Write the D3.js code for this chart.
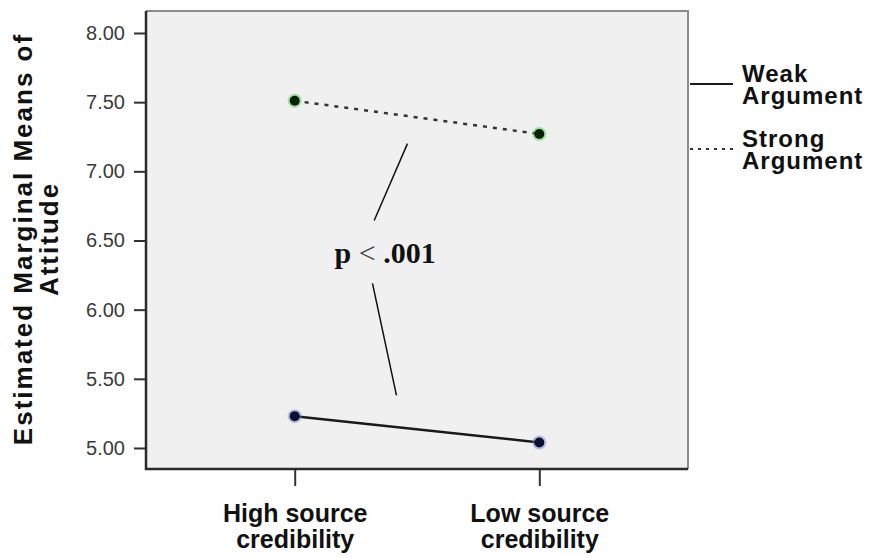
<!DOCTYPE html>
<html>
<head>
<meta charset="utf-8">
<script src="https://cdn.jsdelivr.net/npm/d3@7"></script>
<style>
  body { margin: 0; background: #fff; }
  svg { display: block; }
</style>
</head>
<body>
<div id="chart"></div>
<script>
// Data
const categories = ["High source credibility", "Low source credibility"];
const categoryLines = [["High source", "credibility"], ["Low source", "credibility"]];
const weakValues = [5.23, 5.04];
const strongValues = [7.51, 7.27];
const yTicks = [5.0, 5.5, 6.0, 6.5, 7.0, 7.5, 8.0];
const seriesNames = ["Weak Argument", "Strong Argument"];

// Annotation: x is a fraction between the two categories, y in attitude units
const annoUpper = [[0.461, 7.20], [0.325, 6.645]];
const annoLower = [[0.318, 6.19], [0.416, 5.38]];
const annoText = { x: 0.163, y: 6.34 };

const W = 871, H = 558;
const plot = { left: 146, right: 688, top: 11, bottom: 469 };

const svg = d3.select("#chart").append("svg")
    .attr("width", W)
    .attr("height", H);

const x = d3.scalePoint()
    .domain(categories)
    .range([plot.left, plot.right])
    .padding(0.608);

const y = d3.scaleLinear()
    .domain([4.848, 8.159])
    .range([plot.bottom, plot.top]);

// fractional position between the two categories
const xf = t => x(categories[0]) + t * (x(categories[1]) - x(categories[0]));

// plot background
svg.append("rect")
    .attr("x", plot.left)
    .attr("y", plot.top)
    .attr("width", plot.right - plot.left)
    .attr("height", plot.bottom - plot.top)
    .attr("fill", "#f0f0f0");

// top / right frame lines (lighter)
svg.append("path")
    .attr("d", `M${plot.left},${plot.top}H${plot.right}V${plot.bottom}`)
    .attr("fill", "none")
    .attr("stroke", "#8c8c8c")
    .attr("stroke-width", 2);

// y axis
const yAxis = svg.append("g")
    .attr("transform", `translate(${plot.left},0)`)
    .call(d3.axisLeft(y).tickValues(yTicks).tickFormat(d3.format(".2f")).tickSize(12).tickPadding(9).tickSizeOuter(0));
yAxis.select(".domain").remove();
yAxis.selectAll(".tick line").attr("stroke", "#333").attr("stroke-width", 2);
yAxis.selectAll(".tick text")
    .attr("font-family", "Liberation Sans, Arial, sans-serif")
    .attr("font-size", 20)
    .attr("fill", "#3a3a3a");

// x axis
const xAxis = svg.append("g")
    .attr("transform", `translate(0,${plot.bottom})`)
    .call(d3.axisBottom(x).tickSize(17).tickFormat(""));
xAxis.select(".domain").remove();
xAxis.selectAll(".tick line").attr("stroke", "#333").attr("stroke-width", 2);

xAxis.selectAll(".tick").each(function(d, i) {
    const t = d3.select(this).append("text")
        .attr("text-anchor", "middle")
        .attr("font-family", "Liberation Sans, Arial, sans-serif")
        .attr("font-weight", "bold")
        .attr("font-size", 25)
        .attr("fill", "#111");
    categoryLines[i].forEach((s, k) => {
        t.append("tspan").attr("x", 0).attr("y", 53 + k * 26).text(s);
    });
});

// left and bottom frame (dark)
svg.append("path")
    .attr("d", `M${plot.left},${plot.top}V${plot.bottom}H${plot.right}`)
    .attr("fill", "none")
    .attr("stroke", "#2a2a2a")
    .attr("stroke-width", 2.5);

// y axis title
const yTitle = svg.append("text")
    .attr("transform", "translate(0,239) rotate(-90)")
    .attr("text-anchor", "middle")
    .attr("font-family", "Liberation Sans, Arial, sans-serif")
    .attr("font-weight", "bold")
    .attr("font-size", 26)
    .attr("letter-spacing", 2)
    .attr("fill", "#111");
yTitle.append("tspan").attr("x", 0).attr("y", 32).text("Estimated Marginal Means of");
yTitle.append("tspan").attr("x", 0).attr("y", 58).text("Attitude");

// series lines
const line = d3.line()
    .x((d, i) => x(categories[i]))
    .y(d => y(d));

svg.append("path")
    .datum(strongValues)
    .attr("d", line)
    .attr("fill", "none")
    .attr("stroke", "#333")
    .attr("stroke-width", 2.5)
    .attr("stroke-dasharray", "4,6");

svg.append("path")
    .datum(weakValues)
    .attr("d", line)
    .attr("fill", "none")
    .attr("stroke", "#1a1a1a")
    .attr("stroke-width", 2.5);

// markers
function markers(values, fill, glow) {
    svg.selectAll(null)
        .data(values)
        .enter()
        .append("circle")
        .attr("cx", (d, i) => x(categories[i]))
        .attr("cy", d => y(d))
        .attr("r", 7)
        .attr("fill", glow)
        .attr("opacity", 0.45);
    svg.selectAll(null)
        .data(values)
        .enter()
        .append("circle")
        .attr("cx", (d, i) => x(categories[i]))
        .attr("cy", d => y(d))
        .attr("r", 5)
        .attr("fill", fill);
}
markers(strongValues, "#06200a", "#3fcf3f");
markers(weakValues, "#0a0f35", "#6f7fc0");

// annotation
[annoUpper, annoLower].forEach(seg => {
    svg.append("line")
        .attr("x1", xf(seg[0][0]))
        .attr("y1", y(seg[0][1]))
        .attr("x2", xf(seg[1][0]))
        .attr("y2", y(seg[1][1]))
        .attr("stroke", "#111")
        .attr("stroke-width", 1.5);
});
const pText = svg.append("text")
    .attr("x", xf(annoText.x))
    .attr("y", y(annoText.y))
    .attr("font-family", "Liberation Serif, Times New Roman, serif")
    .attr("font-size", 30)
    .attr("fill", "#111");
pText.append("tspan").attr("font-weight", "bold").text("p");
pText.append("tspan").attr("fill", "#444").text(" < ");
pText.append("tspan").attr("font-weight", "bold").text(".001");

// legend
const legend = svg.append("g")
    .attr("font-family", "Liberation Sans, Arial, sans-serif")
    .attr("font-weight", "bold")
    .attr("font-size", 24)
    .attr("letter-spacing", 1)
    .attr("fill", "#111");

const legendY = [84, 149];
seriesNames.forEach((name, i) => {
    legend.append("line")
        .attr("x1", plot.right + 2)
        .attr("x2", 733)
        .attr("y1", legendY[i])
        .attr("y2", legendY[i])
        .attr("stroke", i === 0 ? "#1a1a1a" : "#333")
        .attr("stroke-width", 2)
        .attr("stroke-dasharray", i === 0 ? null : "3,5");
    const words = name.split(" ");
    const t = legend.append("text").attr("x", 742);
    t.append("tspan").attr("x", 742).attr("y", legendY[i] - 2).text(words[0]);
    t.append("tspan").attr("x", 742).attr("y", legendY[i] + 20).text(words[1]);
});
</script>
</body>
</html>
